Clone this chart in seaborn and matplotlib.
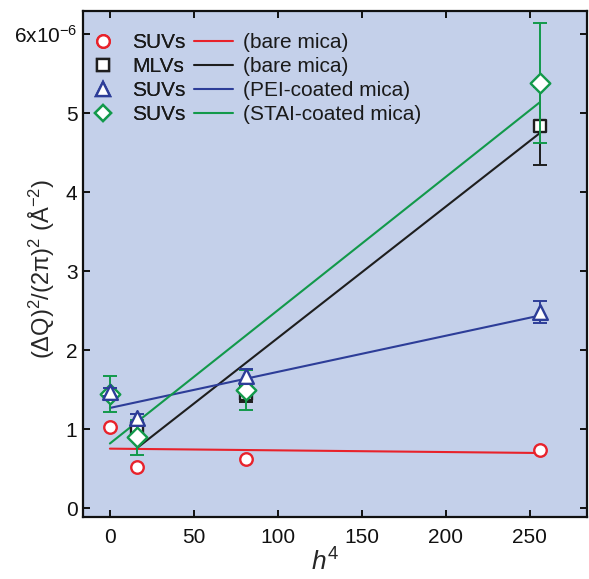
import numpy as np
import pandas as pd
import matplotlib
matplotlib.use("Agg")
import matplotlib.pyplot as plt
from matplotlib.lines import Line2D
import seaborn as sns

# ---------------- data (y in units of 1e-6 A^-2) ----------------
h4 = [0, 16, 81, 256]

suv_bare_y = [1.03, 0.52, 0.63, 0.74]

mlv_x = [16, 81, 256]
mlv_bare_y = [1.02, 1.45, 4.84]
mlv_bare_err = [0.08, 0.10, 0.49]

suv_pei_y = [1.47, 1.14, 1.68, 2.48]
suv_pei_err = [0.05, 0.05, 0.08, 0.14]

suv_stai_y = [1.45, 0.90, 1.50, 5.38]
suv_stai_err = [0.23, 0.22, 0.25, 0.76]

# linear fits (end points)
fit_red_x, fit_red_y = [0, 256], [0.755, 0.70]
fit_black_x, fit_black_y = [16, 256], [0.76, 4.75]
fit_blue_x, fit_blue_y = [0, 256], [1.27, 2.44]
fit_green_x, fit_green_y = [0, 256], [0.82, 5.14]

x_ticks = [0, 50, 100, 150, 200, 250]
y_ticks = [0, 1, 2, 3, 4, 5, 6]
y_ticklabels = ["0", "1", "2", "3", "4", "5", r"6x10$^{\mathregular{-6}}$"]

marker_labels = ["SUVs", "MLVs", "SUVs", "SUVs"]
line_labels = ["(bare mica)", "(bare mica)", "(PEI-coated mica)", "(STAI-coated mica)"]

# ---------------- style ----------------
sns.set_theme(style="ticks")
plt.rcParams["font.family"] = ["Liberation Sans", "DejaVu Sans"]
plt.rcParams["mathtext.fontset"] = "custom"
plt.rcParams["mathtext.rm"] = "Liberation Sans"
plt.rcParams["mathtext.it"] = "Liberation Sans:italic"
plt.rcParams["mathtext.bf"] = "Liberation Sans:bold"

RED = "#e8222b"
BLACK = "#1e1e1e"
BLUE = "#2d3d98"
GREEN = "#12994a"
BG = "#c4d0ea"

fig = plt.figure(figsize=(5.89, 5.79), dpi=100)
ax = fig.add_axes([83 / 589, 1 - 517 / 579, (587 - 83) / 589, (517 - 10.5) / 579])
ax.set_facecolor(BG)

lw = 1.5
mew = 1.7
ms_o, ms_s, ms_t, ms_d = 9.0, 9.0, 10.6, 10.0
cap = 4.7
elw = 1.4

# fit lines
for fx, fy, c in [(fit_red_x, fit_red_y, RED), (fit_black_x, fit_black_y, BLACK),
                  (fit_blue_x, fit_blue_y, BLUE), (fit_green_x, fit_green_y, GREEN)]:
    sns.lineplot(x=fx, y=fy, color=c, lw=lw, ax=ax, zorder=2)

# red circles
sns.scatterplot(x=h4, y=suv_bare_y, marker="o", s=ms_o**2, facecolor="white",
                edgecolor=RED, linewidth=mew, ax=ax, zorder=3)
# black squares
ax.errorbar(mlv_x, mlv_bare_y, yerr=mlv_bare_err, fmt="none", ecolor=BLACK,
            elinewidth=elw, capsize=cap, capthick=elw, zorder=4)
sns.scatterplot(x=mlv_x, y=mlv_bare_y, marker="s", s=ms_s**2, facecolor="white",
                edgecolor=BLACK, linewidth=mew, ax=ax, zorder=5)
# green diamonds
ax.errorbar(h4, suv_stai_y, yerr=suv_stai_err, fmt="none", ecolor=GREEN,
            elinewidth=elw, capsize=cap, capthick=elw, zorder=6)
sns.scatterplot(x=h4, y=suv_stai_y, marker="D", s=ms_d**2, facecolor="white",
                edgecolor=GREEN, linewidth=mew, ax=ax, zorder=7)
# blue triangles
ax.errorbar(h4, suv_pei_y, yerr=suv_pei_err, fmt="none", ecolor=BLUE,
            elinewidth=elw, capsize=cap, capthick=elw, zorder=8)
sns.scatterplot(x=h4, y=suv_pei_y, marker="^", s=ms_t**2, facecolor="white",
                edgecolor=BLUE, linewidth=mew, ax=ax, zorder=9)

# axes
ax.set_xlim(-16, 284)
ax.set_ylim(-0.11, 6.3)
ax.set_xticks(x_ticks)
ax.set_yticks(y_ticks)
ax.set_yticklabels(y_ticklabels)
for s in ax.spines.values():
    s.set_visible(True)
    s.set_linewidth(1.6)
    s.set_color("#111111")
ax.tick_params(direction="in", length=5, width=1.4, top=True, right=True,
               labelsize=15, colors="#111111", pad=4)
ax.tick_params(axis="x", pad=8)

ax.set_xlabel(r"$h^{\mathregular{4}}$", fontsize=19)
ax.xaxis.set_label_coords(0.48, -0.062)
ax.set_ylabel(r"$\mathregular{(\Delta Q)^2/(2\pi)^2\ (\AA^{-2})}$", fontsize=17)
ax.yaxis.set_label_coords(-0.052, 0.49)

# legends
fs = 15
fpx = fs * 100 / 72
mk_handles = [
    Line2D([], [], ls="none", marker="o", ms=ms_o, mfc="white", mec=RED, mew=mew),
    Line2D([], [], ls="none", marker="s", ms=ms_s * 0.95, mfc="white", mec=BLACK, mew=mew),
    Line2D([], [], ls="none", marker="^", ms=ms_t, mfc="white", mec=BLUE, mew=mew),
    Line2D([], [], ls="none", marker="D", ms=ms_d * 0.8, mfc="white", mec=GREEN, mew=mew),
]
ln_handles = [Line2D([], [], color=c, lw=lw) for c in [RED, BLACK, BLUE, GREEN]]

top_y = 1 - 33 / 579
leg1 = fig.legend(mk_handles, marker_labels, loc="upper left",
                  bbox_to_anchor=((103 - fpx * 0.5) / 589, top_y), frameon=False,
                  fontsize=fs, handlelength=1.0, handletextpad=(132 - 103 - fpx * 0.5) / fpx,
                  borderpad=0, borderaxespad=0, labelspacing=0.24)
fig.add_artist(leg1)
leg2 = fig.legend(ln_handles, line_labels, loc="upper left",
                  bbox_to_anchor=(194 / 589, top_y), frameon=False,
                  fontsize=fs, handlelength=39 / fpx, handletextpad=10 / fpx, borderpad=0,
                  borderaxespad=0, labelspacing=0.24)
for t in leg1.get_texts() + leg2.get_texts():
    t.set_color("#1a1a1a")

fig.savefig("out.png", dpi=100)
